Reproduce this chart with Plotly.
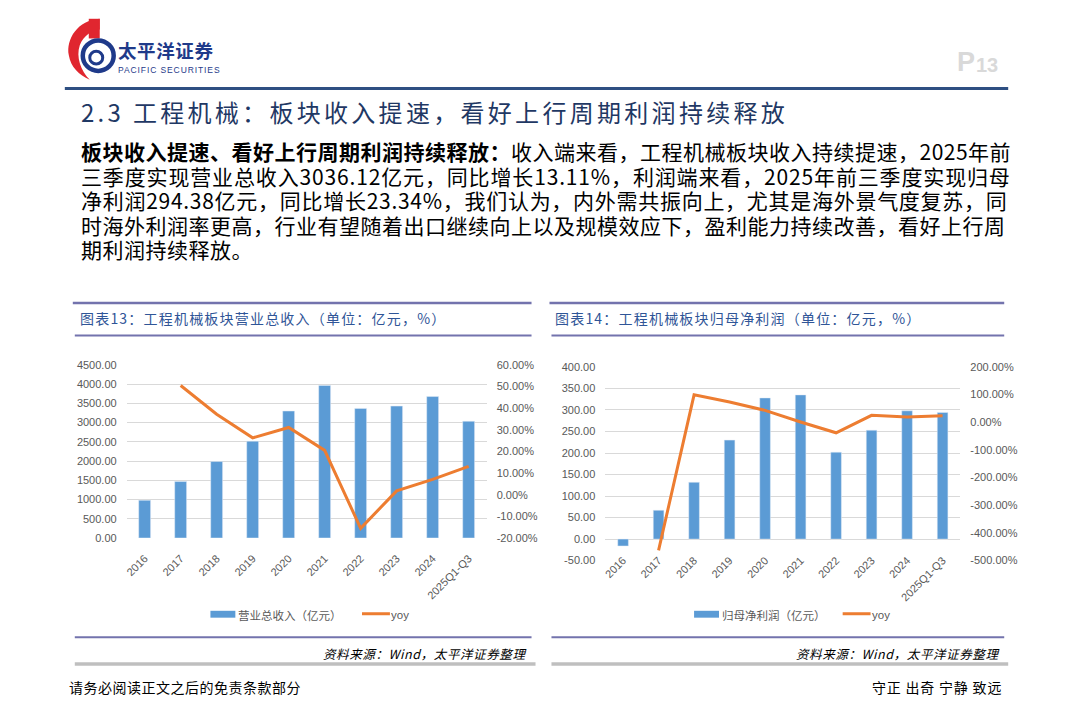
import plotly.graph_objects as go

W, H = 1080, 723


def px(x):
    return x / W


def py(y):
    return 1 - y / H


# ---- data ----
years = ["2016", "2017", "2018", "2019", "2020", "2021", "2022", "2023", "2024", "2025Q1-Q3"]
revenue = [981, 1468, 1988, 2517, 3302, 3968, 3370, 3430, 3678, 3036.12]          # 亿元
revenue_yoy = [None, 50.5, 37.2, 26.3, 31.1, 20.5, -15.5, 1.8, 7.1, 13.11]         # %
profit = [-16, 67, 132, 230, 328, 335, 202, 253, 298, 294.38]                      # 亿元
profit_yoy = [None, -463, 99, 73, 43, 1, -38, 25, 19, 23.34]                       # %

rev_ticks = list(range(0, 4501, 500))
rev_pct_ticks = list(range(-20, 61, 10))
prof_ticks = list(range(-50, 401, 50))
prof_pct_ticks = list(range(-500, 201, 100))

body_lines = [
    "<b>板块收入提速、看好上行周期利润持续释放：</b>收入端来看，工程机械板块收入持续提速，2025年前",
    "三季度实现营业总收入3036.12亿元，同比增长13.11%，利润端来看，2025年前三季度实现归母",
    "净利润294.38亿元，同比增长23.34%，我们认为，内外需共振向上，尤其是海外景气度复苏，同",
    "时海外利润率更高，行业有望随着出口继续向上以及规模效应下，盈利能力持续改善，看好上行周",
    "期利润持续释放。",
]
# per-line letter spacing (px) to imitate the justified paragraph
body_spacing = [0.5, 0.85, 0.72, 0.5, 0.5]

BLUE = "#5B9BD5"
ORANGE = "#ED7D31"
GRID = "#D9D9D9"
TICK = "#595959"
FRAME = "#7373AD"
CJK = "Noto Sans CJK SC"
tick_font = dict(family="Liberation Sans, Arial", size=11, color=TICK)

fig = go.Figure()

# 图表13
fig.add_trace(go.Bar(x=years, y=revenue, xaxis="x", yaxis="y", width=0.33,
                     marker_color=BLUE, name="营业总收入（亿元）"))
fig.add_trace(go.Scatter(x=years, y=revenue_yoy, xaxis="x", yaxis="y2", mode="lines",
                         line=dict(color=ORANGE, width=3), name="yoy"))
# 图表14
fig.add_trace(go.Bar(x=years, y=profit, xaxis="x2", yaxis="y3", width=0.30,
                     marker_color=BLUE, name="归母净利润（亿元）"))
fig.add_trace(go.Scatter(x=years, y=profit_yoy, xaxis="x2", yaxis="y4", mode="lines",
                         line=dict(color=ORANGE, width=3), name="yoy"))


def pct_text(vals):
    return [f"{v:.2f}%" for v in vals]


def num_text(vals):
    return [f"{v:.2f}" for v in vals]


xcommon = dict(type="category", tickangle=-45, tickfont=tick_font, showgrid=False,
               showline=False, zeroline=False, ticks="", ticklabelstandoff=11, fixedrange=True)
ycommon = dict(tickfont=tick_font, zeroline=False, showline=False, ticks="",
               ticklabelstandoff=9, fixedrange=True)

fig.update_layout(
    xaxis=dict(domain=[px(124), px(485)], anchor="y", **xcommon),
    yaxis=dict(domain=[py(541), py(365)], range=[0, 4500], tickvals=rev_ticks,
               ticktext=num_text(rev_ticks), showgrid=True, gridcolor=GRID, gridwidth=1, **ycommon),
    yaxis2=dict(overlaying="y", side="right", anchor="x", range=[-20, 60], tickvals=rev_pct_ticks,
                ticktext=pct_text(rev_pct_ticks), showgrid=False, **ycommon),
    xaxis2=dict(domain=[px(604), px(960)], anchor="free", position=py(543), **xcommon),
    yaxis3=dict(domain=[py(564), py(367)], anchor="x2", range=[-50, 400], tickvals=prof_ticks,
                ticktext=num_text(prof_ticks), showgrid=True, gridcolor=GRID, gridwidth=1, **ycommon),
    yaxis4=dict(overlaying="y3", side="right", anchor="x2", range=[-500, 200], tickvals=prof_pct_ticks,
                ticktext=pct_text(prof_pct_ticks), showgrid=False, **ycommon),
)

shapes = []
annotations = []


def hline(x0, x1, y, color, width):
    shapes.append(dict(type="line", xref="paper", yref="paper", x0=px(x0), x1=px(x1),
                       y0=py(y), y1=py(y), line=dict(color=color, width=width)))


def text(x, y, s, size, color="#000000", anchor="left", family=CJK, spacing=None,
         yanchor="middle", **kw):
    if spacing:
        s = f"<span style='letter-spacing:{spacing}px'>{s}</span>"
    annotations.append(dict(xref="paper", yref="paper", x=px(x), y=py(y), text=s,
                            showarrow=False, xanchor=anchor, yanchor=yanchor, borderpad=0,
                            align="left", font=dict(family=family, size=size, color=color), **kw))


# ---- page header ----
red_path = "M {} {} C {} {} {} {} {} {} C {} {} {} {} {} {} C {} {} {} {} {} {} C {} {} {} {} {} {} Z".format(
    px(97), py(13), px(75), py(14), px(63), py(34), px(66), py(50),
    px(68), py(62), px(76), py(70), px(87), py(75),
    px(78), py(66), px(73), py(52), px(77), py(40),
    px(81), py(30), px(89), py(25), px(97), py(24))
shapes.append(dict(type="path", xref="paper", yref="paper", path=red_path,
                   fillcolor="#E0262F", line=dict(width=0)))
shapes.append(dict(type="rect", xref="paper", yref="paper", x0=px(86), x1=px(97),
                   y0=py(13), y1=py(33), fillcolor="#E0262F", line=dict(width=0)))
shapes.append(dict(type="circle", xref="paper", yref="paper", x0=px(80), x1=px(111),
                   y0=py(66), y1=py(35), line=dict(color="#1F3A8A", width=4.5)))
shapes.append(dict(type="circle", xref="paper", yref="paper", x0=px(87), x1=px(100),
                   y0=py(59), y1=py(46), line=dict(color="#1F3A8A", width=3)))
# logo words: one text block, base size sets the 15px line pitch
logo = ("<span style='font-size:18.5px;letter-spacing:0.6px'><b>太平洋证券</b></span><br>"
        "<span style='font-size:8.5px;letter-spacing:0.9px;font-family:Liberation Sans, Arial'>"
        "PACIFIC SECURITIES</span>")
text(114, 31, logo, 11.5, "#1F3A8A", yanchor="top")
text(956, 57, "<b>P</b>", 27, "#D9D9D9", family="Liberation Sans, Arial")
text(975, 60, "<b>13</b>", 20, "#D9D9D9", family="Liberation Sans, Arial")
hline(62, 1008, 84, "#2E4F82", 3)

text(77, 107, "2.3 工程机械：板块收入提速，看好上行周期利润持续释放", 24, "#1F3864", spacing=3.3)

# paragraph as one text block: base size 18.9 -> 24.6px line pitch, glyphs drawn at 21px
para = "<br>".join(
    f"<span style='font-size:21px;letter-spacing:{sp}px'>{ln}</span>"
    for ln, sp in zip(body_lines, body_spacing)
)
text(77, 131, para, 18.9, "#000000", yanchor="top")

# ---- chart frames ----
panels = [
    dict(x0=70, x1=530, title="图表13：工程机械板块营业总收入（单位：亿元，%）", tx=76,
         bar_label="营业总收入（亿元）", lx=208, ox=360, src_x=525),
    dict(x0=548, x1=1004, title="图表14：工程机械板块归母净利润（单位：亿元，%）", tx=553,
         bar_label="归母净利润（亿元）", lx=693, ox=842, src_x=1000),
]
for p in panels:
    hline(p["x0"], p["x1"], 302, FRAME, 2.5)
    text(p["tx"], 317, p["title"], 14, "#2F5597", spacing=1.2)
    hline(p["x0"] + 2, p["x1"], 335, FRAME, 2)
    # legend
    shapes.append(dict(type="rect", xref="paper", yref="paper", x0=px(p["lx"]), x1=px(p["lx"] + 25),
                       y0=py(622), y1=py(615), fillcolor=BLUE, line=dict(width=0)))
    text(p["lx"] + 27, 619, p["bar_label"], 11.5, TICK)
    hline(p["ox"], p["ox"] + 28, 618, ORANGE, 3)
    text(p["ox"] + 28, 619, "yoy", 11.5, TICK, family="Liberation Sans, Arial")
    hline(p["x0"] + 2, p["x1"], 642, FRAME, 2)
    text(p["src_x"], 658, "<i>资料来源：Wind，太平洋证券整理</i>", 12.5, "#000000", anchor="right", spacing=0.6)
    hline(p["x0"] + 2, p["x1"] + 4, 669, "#BFBFBF", 3.5)

# ---- footer ----
text(65, 692, "请务必阅读正文之后的免责条款部分", 14, "#000000", spacing=0.5)
text(1003, 692, "守正 出奇 宁静 致远", 14, "#000000", anchor="right", spacing=0.8)

fig.update_layout(
    width=W, height=H, autosize=False,
    margin=dict(l=0, r=0, t=0, b=0),
    paper_bgcolor="white", plot_bgcolor="white",
    showlegend=False,
    shapes=shapes, annotations=annotations,
    font=dict(family=CJK),
)

fig.write_html("out.html", config={"displayModeBar": False},
               post_script="document.body.style.margin='0';")
